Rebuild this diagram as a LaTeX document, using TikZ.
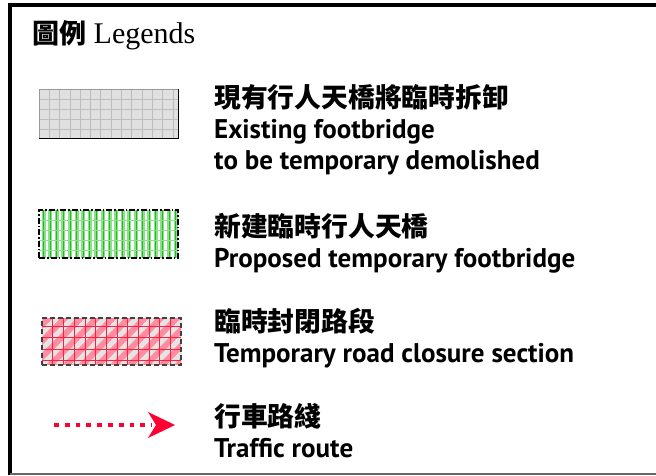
\documentclass[tikz,border=0pt]{standalone}
\usepackage{fontspec}
\setmainfont{PT Sans}
\newfontfamily\cjk{Noto Sans CJK TC}
\newfontfamily\titleserif{Liberation Serif}
\definecolor{routered}{RGB}{255,0,51}
\definecolor{boxgray}{RGB}{224,224,224}
\definecolor{gridgray}{RGB}{188,188,188}
\definecolor{stripegreen}{RGB}{140,224,140}
\definecolor{darkgreen}{RGB}{30,190,30}
\definecolor{pinkfill}{RGB}{255,140,160}
\definecolor{gridred}{RGB}{255,30,60}
\definecolor{hatchgray}{RGB}{228,228,228}
\begin{document}
\begin{tikzpicture}[x=1pt,y=-1pt,
  cjktext/.style={anchor=base west,inner sep=0pt,font=\cjk\bfseries\fontsize{26.8}{30}\selectfont},
  entext/.style={anchor=base west,inner sep=0pt,font=\bfseries\fontsize{27}{30}\selectfont},
  titletext/.style={anchor=base west,inner sep=0pt}]
\useasboundingbox (0,0) rectangle (656,475);
\fill[white] (0,0) rectangle (656,475);
% frame
\draw[line width=4pt] (10,475) -- (10,5) -- (656,5);
\draw[line width=2pt,black!60] (10,474) -- (656,474);
% title
\node[titletext] (title) at (32,43) {\cjk\bfseries\fontsize{27}{30}\selectfont 圖例\titleserif\mdseries\fontsize{30}{30}\selectfont\ Legends};

% swatch 1: gray grid
\begin{scope}
\clip (39,89) rectangle (178,138);
\fill[boxgray] (39,89) rectangle (178,138);
\foreach \i in {0,...,13} \draw[gridgray,line width=0.8pt] (49.3+10.3*\i,89) -- (49.3+10.3*\i,138);
\foreach \j in {0,...,3} \draw[gridgray,line width=0.8pt] (39,99.3+10*\j) -- (178,99.3+10*\j);
\end{scope}
\node[draw=black!40,line width=0.8pt,minimum width=139pt,minimum height=49pt,inner sep=0pt] (s1) at (108.5,113.5) {};
\draw[line width=1.8pt] (s1.north east) -- (s1.south east) -- (s1.south west);

% swatch 2: green stripes
\begin{scope}
\clip (39,210) rectangle (178,258);
\foreach \i in {0,...,21} {
  \fill[stripegreen] (41.5+6.6*\i,210) rectangle (45.5+6.6*\i,258);
  \draw[darkgreen,line width=0.7pt] (43.5+6.6*\i,210) -- (43.5+6.6*\i,258);
}
\foreach \j in {0,...,3} \draw[darkgreen!50,line width=0.4pt] (39,220+10*\j) -- (178,220+10*\j);
\end{scope}
\node[draw=black,line width=1.2pt,dash pattern=on 6pt off 2pt on 1.5pt off 2pt,minimum width=139pt,minimum height=48pt,inner sep=0pt] (s2) at (108.5,234) {};

% swatch 3: red hatched
\begin{scope}
\clip (42,318) rectangle (181,365);
\fill[pinkfill] (42,318) rectangle (181,365);
\foreach \i in {-4,...,10} \draw[hatchgray,line width=5pt] (42+16*\i,365) -- (42+16*\i+47,318);
\foreach \i in {0,...,13} \draw[gridred,line width=0.6pt] (52.7+10.7*\i,318) -- (52.7+10.7*\i,365);
\foreach \j in {0,...,3} \draw[gridred,line width=0.6pt] (42,326+11.5*\j) -- (181,326+11.5*\j);
\end{scope}
\node[draw=black!75,line width=1.6pt,dash pattern=on 5pt off 3pt,minimum width=139pt,minimum height=47pt,inner sep=0pt] (s3) at (111.5,341.5) {};

% swatch 4: traffic route arrow
\coordinate (a0) at (54,425);
\coordinate (a1) at (152,425);
\draw[routered,line width=4.7pt,dash pattern=on 4.7pt off 6.1pt] (a0) -- (a1);
\fill[routered] (175,425) -- (148,412) -- (156,425) -- (148,438) -- cycle;

% texts
\node[cjktext] (t1a) at (214,107) {現有行人天橋將臨時拆卸};
\node[entext] (t1b) at (214,138) {Existing footbridge};
\node[entext] (t1c) at (214,169) {to be temporary demolished};
\node[cjktext] (t2a) at (214,236) {新建臨時行人天橋};
\node[entext] (t2b) at (214,267) {Proposed temporary footbridge};
\node[cjktext] (t3a) at (214,331) {臨時封閉路段};
\node[entext] (t3b) at (214,362) {Temporary road closure section};
\node[cjktext] (t4a) at (214,426) {行車路綫};
\node[entext] (t4b) at (214,457) {Traffic route};
\end{tikzpicture}
\end{document}
